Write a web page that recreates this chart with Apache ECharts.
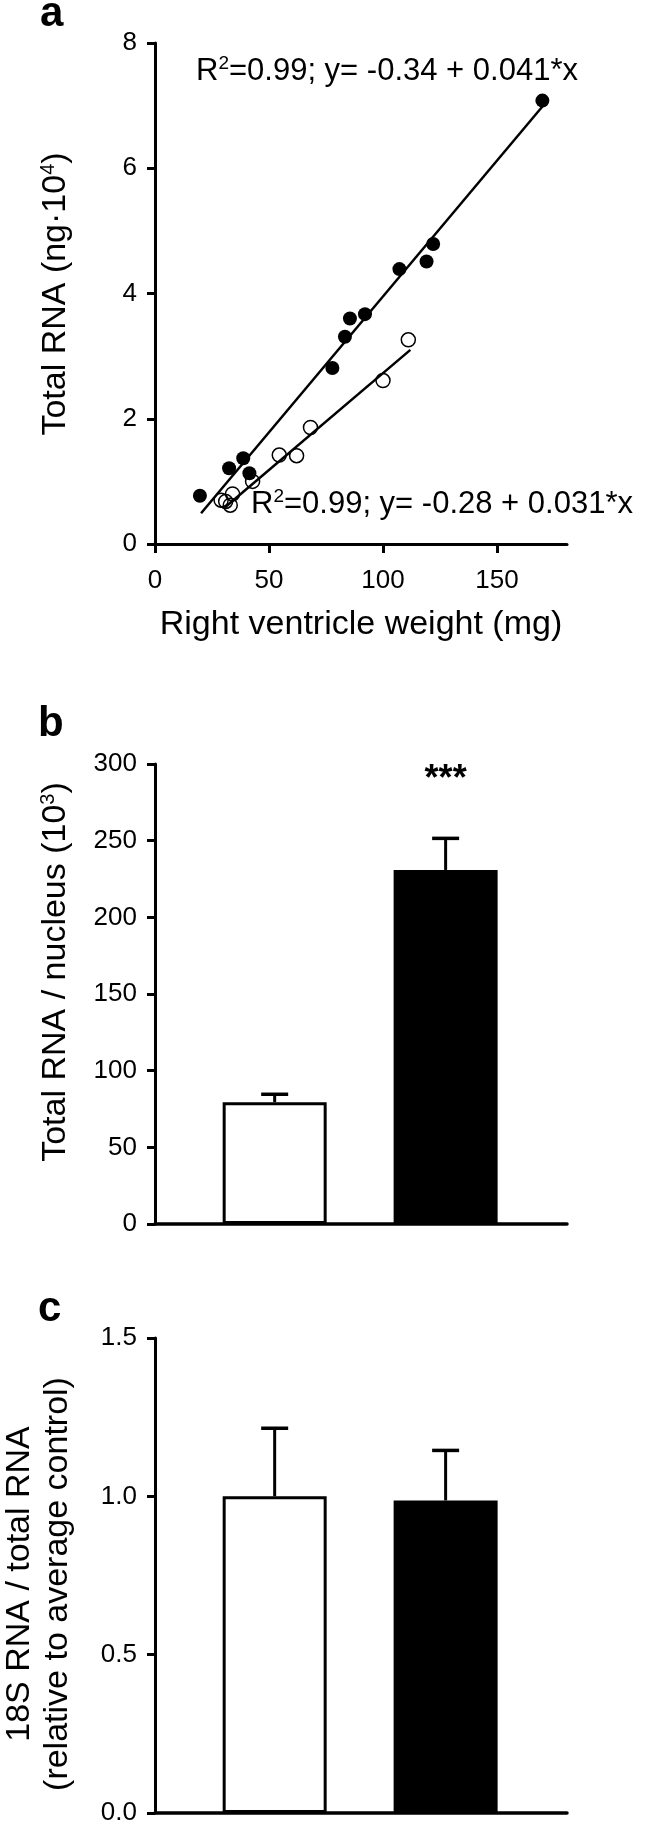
<!DOCTYPE html>
<html><head><meta charset="utf-8">
<script src="https://cdn.jsdelivr.net/npm/echarts@6/dist/echarts.min.js"></script>
<style>html,body{margin:0;padding:0;background:#fff}#c{width:649px;height:1826px}</style>
</head><body><div id="c"></div>
<script>
// ---- Panel a: scatter ----
const rvWeightHyper = [19.7, 32.5, 38.7, 41.4, 77.8, 83.3, 85.5, 92.1, 107.2, 119.1, 122.0, 169.9];
const rnaHyper      = [0.77, 1.21, 1.37, 1.13, 2.81, 3.31, 3.60, 3.67, 4.39, 4.51, 4.79, 7.08];
const rvWeightCtrl  = [29.0, 31.0, 34.0, 33.0, 42.8, 54.5, 62.1, 68.2, 100.0, 111.1];
const rnaCtrl       = [0.70, 0.68, 0.80, 0.62, 1.00, 1.42, 1.41, 1.86, 2.61, 3.26];
const fitHyper = [[20.2, 0.49], [170.0, 6.99]];
const fitCtrl  = [[30.5, 0.58], [112.0, 3.10]];
const xTicksA = [0, 50, 100, 150];
const eqHyper = 'R{sup|2}=0.99; y= -0.34 + 0.041*x';
const eqCtrl  = 'R{sup|2}=0.99; y= -0.28 + 0.031*x';

// ---- Panels b, c: bars ----
const groupPos = [0.7, 1.7];
const rnaPerNucleus    = [79.4, 230.9];
const rnaPerNucleusErr = [5.2, 20.6];
const sigB = ['', '***'];
const ratio18S    = [1.0, 0.987];
const ratio18SErr = [0.215, 0.158];

const FONT = "'Liberation Sans', Arial, Helvetica, sans-serif";
const tickFont = 26, titleFont = 34;

function zip(a, b) { return a.map((v, i) => [v, b[i]]); }

function yAxisCommon(extra) {
  return Object.assign({
    type: 'value',
    axisLine: { show: true, lineStyle: { color: '#000', width: 3 } },
    axisTick: { show: true, length: 8, lineStyle: { color: '#000', width: 3 } },
    axisLabel: { color: '#000', fontSize: tickFont, fontFamily: FONT, margin: 18 },
    splitLine: { show: false }
  }, extra);
}

function barXAxis(gridIndex) {
  return {
    type: 'value', gridIndex, min: 0, max: 2.41,
    axisLine: { show: true, onZero: true, lineStyle: { color: '#000', width: 3.5 } },
    axisTick: { show: false }, axisLabel: { show: false }, splitLine: { show: false }
  };
}

function barSeries(xi, yi, vals) {
  return {
    type: 'bar', xAxisIndex: xi, yAxisIndex: yi, barWidth: 104, z: 2,
    data: vals.map((v, i) => ({
      value: [groupPos[i], v],
      itemStyle: i === 0 ? { color: '#fff', borderColor: '#000', borderWidth: 3 } : { color: '#000', borderColor: '#000', borderWidth: 0 }
    }))
  };
}

function errSeries(xi, yi, vals, errs, sig) {
  return {
    type: 'custom', xAxisIndex: xi, yAxisIndex: yi, z: 3,
    data: vals.map((v, i) => [groupPos[i], v, v + errs[i], i]),
    renderItem: function (params, api) {
      const p0 = api.coord([api.value(0), api.value(1)]);
      const p1 = api.coord([api.value(0), api.value(2)]);
      const cap = 13.5;
      const children = [
        { type: 'line', shape: { x1: p0[0], y1: p0[1], x2: p1[0], y2: p1[1] }, style: { stroke: '#000', lineWidth: 3 } },
        { type: 'line', shape: { x1: p1[0] - cap, y1: p1[1], x2: p1[0] + cap, y2: p1[1] }, style: { stroke: '#000', lineWidth: 3.5 } }
      ];
      const s = sig ? sig[api.value(3)] : '';
      if (s) {
        children.push({ type: 'text', x: p1[0], y: p1[1] - 58, style: { text: s, fontSize: 36, fontWeight: 'bold', fontFamily: FONT, fill: '#000', align: 'center', verticalAlign: 'middle' } });
      }
      return { type: 'group', children };
    }
  };
}

function txt(x, y, text, size, opts) {
  return Object.assign({
    type: 'text', x, y, silent: true,
    style: Object.assign({ text, fontSize: size, fontFamily: FONT, fill: '#000', align: 'center', verticalAlign: 'middle', rich: { sup: { fontSize: Math.round(size * 0.6), fontFamily: FONT, fill: '#000', padding: [0, 0, Math.round(size * 0.45), 0] } } }, opts || {})
  });
}

const chart = echarts.init(document.getElementById('c'), null, { renderer: 'canvas' });
chart.setOption({
  animation: false,
  backgroundColor: '#fff',
  grid: [
    { left: 155, top: 43, width: 412, height: 501 },
    { left: 155, top: 764, width: 412, height: 460 },
    { left: 155, top: 1338, width: 412, height: 476 }
  ],
  xAxis: [
    {
      type: 'value', gridIndex: 0, min: 0, max: 180.7,
      axisLine: { show: true, onZero: false, lineStyle: { color: '#000', width: 3 } },
      axisTick: { show: true, length: 9, customValues: xTicksA, lineStyle: { color: '#000', width: 3 } },
      axisLabel: { color: '#000', fontSize: tickFont, fontFamily: FONT, margin: 24, customValues: xTicksA },
      splitLine: { show: false }
    },
    barXAxis(1),
    barXAxis(2)
  ],
  yAxis: [
    yAxisCommon({ gridIndex: 0, min: 0, max: 8, interval: 2 }),
    yAxisCommon({ gridIndex: 1, min: 0, max: 300, interval: 50 }),
    yAxisCommon({ gridIndex: 2, min: 0, max: 1.5, interval: 0.5,
      axisLabel: { color: '#000', fontSize: tickFont, fontFamily: FONT, margin: 18, formatter: v => v.toFixed(1) } })
  ],
  series: [
    { type: 'line', xAxisIndex: 0, yAxisIndex: 0, data: fitHyper, symbol: 'none', lineStyle: { color: '#000', width: 2.5 }, z: 1 },
    { type: 'line', xAxisIndex: 0, yAxisIndex: 0, data: fitCtrl, symbol: 'none', lineStyle: { color: '#000', width: 2.5 }, z: 1 },
    { type: 'scatter', xAxisIndex: 0, yAxisIndex: 0, data: zip(rvWeightHyper, rnaHyper), symbolSize: 14, itemStyle: { color: '#000', opacity: 1 }, z: 3 },
    { type: 'scatter', xAxisIndex: 0, yAxisIndex: 0, data: zip(rvWeightCtrl, rnaCtrl), symbolSize: 14, itemStyle: { color: 'rgba(255,255,255,0)', borderColor: '#000', borderWidth: 1.5, opacity: 1 }, z: 4 },
    barSeries(1, 1, rnaPerNucleus),
    errSeries(1, 1, rnaPerNucleus, rnaPerNucleusErr, sigB),
    barSeries(2, 2, ratio18S),
    errSeries(2, 2, ratio18S, ratio18SErr, null)
  ],
  graphic: [
    txt(40, 14, 'a', 42, { fontWeight: 'bold', align: 'left' }),
    txt(38, 724, 'b', 42, { fontWeight: 'bold', align: 'left' }),
    txt(38, 1309, 'c', 42, { fontWeight: 'bold', align: 'left' }),
    txt(196, 71, eqHyper, 31, { align: 'left' }),
    txt(251, 504, eqCtrl, 31, { align: 'left' }),
    Object.assign(txt(56, 294, 'Total RNA (ng·10{sup|4})', titleFont), { rotation: Math.PI / 2 }),
    txt(361, 625, 'Right ventricle weight (mg)', titleFont),
    Object.assign(txt(56, 972, 'Total RNA / nucleus (10{sup|3})', titleFont), { rotation: Math.PI / 2 }),
    Object.assign(txt(20, 1584, '18S RNA / total RNA', titleFont), { rotation: Math.PI / 2 }),
    Object.assign(txt(58, 1584, '(relative to average control)', titleFont), { rotation: Math.PI / 2 })
  ]
});
</script></body></html>
